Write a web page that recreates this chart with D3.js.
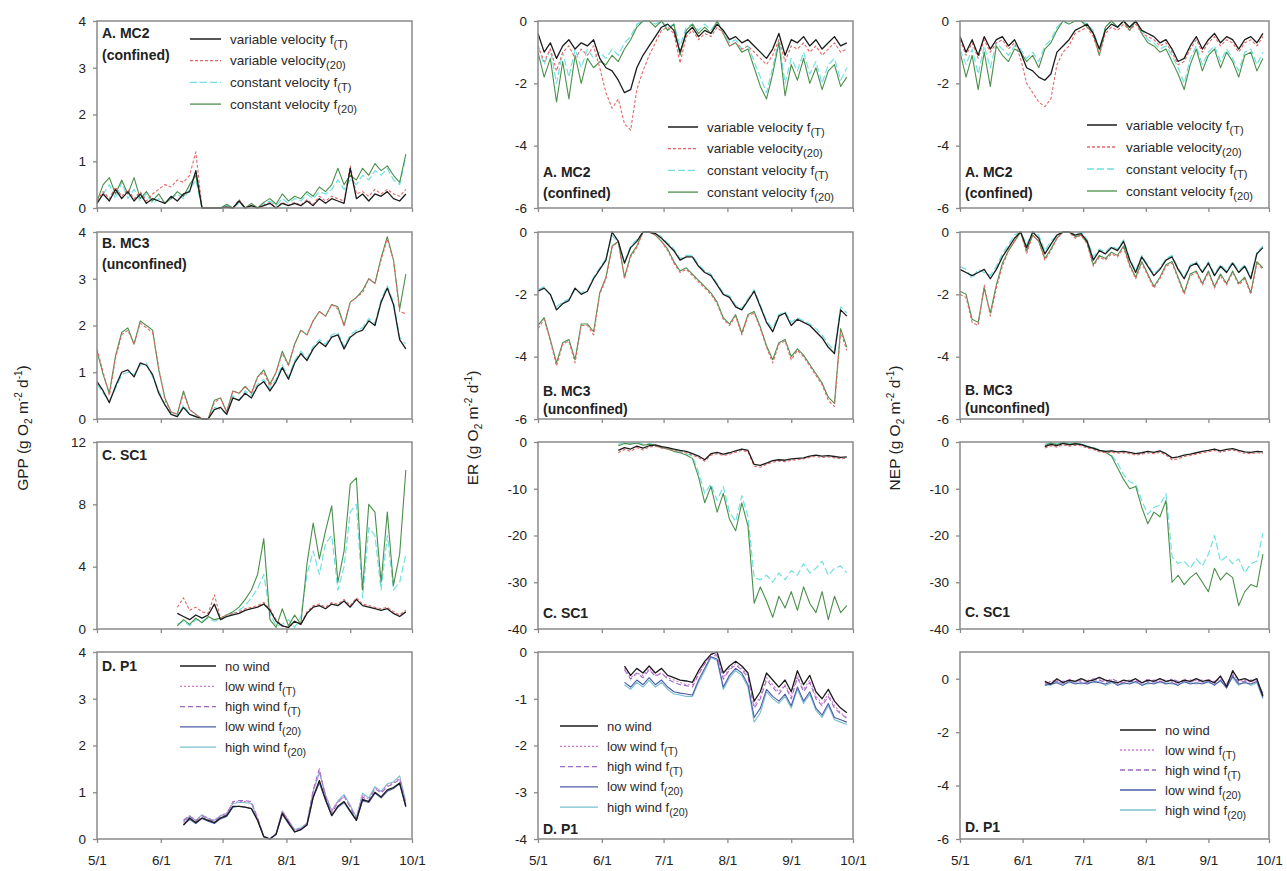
<!DOCTYPE html>
<html><head><meta charset="utf-8">
<script src="https://cdn.jsdelivr.net/npm/d3@7"></script>
<style>body{margin:0;background:#fff}svg{font-family:"Liberation Sans",Arial,sans-serif}</style>
</head><body><svg id="c" width="1287" height="871"></svg>
<script>
// ---------- dates ----------
const datesFull = ["5/1","5/4","5/7","5/10","5/13","5/16","5/19","5/22","5/25","5/28","5/31","6/3","6/6",
 "6/9","6/12","6/15","6/18","6/21","6/24","6/27","6/30","7/3","7/6","7/9","7/12","7/15","7/18","7/21","7/24","7/27","7/30",
 "8/2","8/5","8/8","8/11","8/14","8/17","8/20","8/23","8/26","8/29","9/1","9/4","9/7","9/10","9/13","9/16","9/19","9/22","9/25","9/28"];
const datesLate = ["6/9","6/12","6/15","6/18","6/21","6/24","6/27","6/30","7/3","7/6","7/9","7/12","7/15","7/18","7/21","7/24","7/27","7/30",
 "8/2","8/5","8/8","8/11","8/14","8/17","8/20","8/23","8/26","8/29","9/1","9/4","9/7","9/10","9/13","9/16","9/19","9/22","9/25","9/28"];
const xTickLabels = ["5/1","6/1","7/1","8/1","9/1","10/1"];

// ---------- GPP ----------
const gppA_varT = [0.1,0.3,0.15,0.4,0.2,0.35,0.15,0.3,0.1,0.2,0.15,0.1,0.25,0.15,0.3,0.35,0.8,0,0,0,0,0.02,0,0.15,0,0.05,0,0.05,0.1,0,0.1,0.05,0.1,0.05,0.15,0.05,0.2,0.1,0.2,0.15,0.1,0.85,0.2,0.3,0.15,0.3,0.25,0.35,0.2,0.15,0.3];
const gppA_var20 = [0.15,0.35,0.2,0.45,0.25,0.4,0.2,0.35,0.15,0.3,0.4,0.5,0.45,0.6,0.55,0.7,1.2,0,0,0,0,0.03,0,0.18,0,0.06,0,0.06,0.12,0,0.12,0.06,0.12,0.06,0.18,0.08,0.25,0.15,0.25,0.2,0.15,0.9,0.3,0.35,0.25,0.4,0.3,0.4,0.3,0.25,0.4];
const gppA_constT = [0.1,0.3,0.5,0.2,0.55,0.2,0.4,0.15,0.3,0.1,0.2,0.1,0.2,0.3,0.2,0.4,0.6,0,0,0,0,0.05,0,0.1,0,0.05,0,0.1,0.15,0.05,0.2,0.1,0.2,0.15,0.3,0.2,0.35,0.3,0.4,0.6,0.4,0.6,0.5,0.7,0.6,0.8,0.7,0.85,0.6,0.5,1.1];
const gppA_const20 = [0.15,0.5,0.65,0.3,0.6,0.3,0.65,0.2,0.35,0.15,0.3,0.1,0.2,0.35,0.25,0.5,0.7,0,0,0,0,0.08,0,0.15,0,0.1,0,0.12,0.2,0.08,0.3,0.15,0.25,0.2,0.35,0.25,0.45,0.35,0.5,0.85,0.5,0.7,0.6,0.85,0.7,0.95,0.8,0.9,0.7,0.55,1.15];

const gppB_varT = [0.8,0.6,0.35,0.7,1.0,1.05,0.9,1.2,1.15,0.95,0.55,0.3,0.1,0.05,0.25,0.1,0.05,0,0,0.2,0.25,0.1,0.45,0.4,0.55,0.45,0.7,0.8,0.6,0.8,1.1,0.85,1.2,1.4,1.25,1.5,1.65,1.55,1.75,1.8,1.5,1.75,1.85,1.9,2.1,2.0,2.5,2.8,2.45,1.7,1.5];
const gppB_var20 = [1.5,1.0,0.5,1.3,1.8,1.9,1.6,2.05,1.95,1.85,1.1,0.4,0.15,0.1,0.55,0.2,0.1,0,0,0.35,0.45,0.15,0.6,0.55,0.7,0.55,0.9,1.0,0.7,1.0,1.4,1.15,1.6,1.9,1.8,2.1,2.3,2.2,2.45,2.35,2.0,2.5,2.6,2.7,3.0,2.9,3.4,3.85,3.4,2.3,2.25];
const gppB_constT = [0.75,0.55,0.4,0.65,0.95,1.0,0.95,1.15,1.2,0.9,0.6,0.3,0.1,0.05,0.3,0.1,0.05,0,0,0.25,0.2,0.1,0.5,0.4,0.6,0.5,0.75,0.85,0.65,0.85,1.15,0.9,1.25,1.45,1.3,1.55,1.7,1.6,1.8,1.85,1.55,1.8,1.9,1.95,2.15,2.05,2.55,2.85,2.5,1.75,1.6];
const gppB_const20 = [1.45,0.95,0.55,1.35,1.85,1.95,1.6,2.1,2.0,1.9,1.05,0.45,0.15,0.1,0.6,0.2,0.1,0,0,0.4,0.45,0.15,0.6,0.55,0.7,0.55,0.9,1.05,0.75,1.0,1.45,1.15,1.6,1.9,1.8,2.1,2.3,2.2,2.45,2.4,2.0,2.5,2.6,2.75,3.0,2.9,3.45,3.9,3.4,2.35,3.1];

const gppC_varT = [1.0,0.8,0.6,0.9,0.7,0.9,1.6,0.6,0.8,0.9,1.0,1.2,1.3,1.4,1.6,1.2,0.5,0.2,0.1,0.5,0.3,1.0,1.4,1.5,1.3,1.6,1.5,1.8,1.4,1.9,1.5,1.4,1.3,1.2,1.3,1.0,0.8,1.1];
const gppC_var20 = [1.4,2.0,1.2,1.4,1.1,1.0,2.2,0.7,0.9,1.0,1.1,1.3,1.4,1.5,1.7,1.3,0.6,0.2,0.1,0.5,0.3,1.1,1.5,1.6,1.4,1.7,1.6,1.9,1.5,2.0,1.6,1.5,1.4,1.3,1.4,1.1,0.9,1.2];
const gppC_constT = [0.3,0.5,0.2,0.6,0.5,0.7,0.5,0.6,0.8,1.0,1.2,1.5,2.0,2.6,3.5,1.0,0.2,0.3,0.6,0.1,0.8,3.5,5.0,3.5,5.5,6.0,2.5,4.0,7.5,8.0,2.0,6.5,6.0,2.5,6.0,2.5,3.0,4.8];
const gppC_const20 = [0.2,0.6,0.3,0.7,0.4,0.8,0.6,0.7,0.9,1.1,1.4,1.9,2.5,3.5,5.8,0.6,0.1,1.3,0.2,0.9,0.3,4.2,6.8,4.5,6.3,7.9,3.0,5.0,9.3,9.7,2.5,8.0,7.5,3.0,7.5,2.8,4.8,10.2];

const gppD_noWind = [null,0.3,0.45,0.35,0.45,0.4,0.35,0.45,0.5,0.7,0.7,0.68,0.65,0.4,0.05,0,0.1,0.55,0.35,0.15,0.2,0.3,0.9,1.25,0.85,0.5,0.7,0.8,0.6,0.4,0.85,0.8,1.0,0.9,1.05,1.1,1.2,0.7];
const gppD_lowWindT = [null,0.35,0.5,0.4,0.5,0.45,0.4,0.5,0.55,0.78,0.8,0.8,0.78,0.45,0.05,0,0.12,0.6,0.4,0.18,0.22,0.32,1.0,1.45,0.95,0.6,0.8,0.9,0.7,0.45,0.95,0.85,1.1,1.0,1.15,1.2,1.3,0.75];
const gppD_highWindT = [null,0.4,0.5,0.38,0.5,0.42,0.38,0.48,0.52,0.8,0.82,0.82,0.8,0.45,0.06,0,0.12,0.58,0.38,0.18,0.22,0.33,1.05,1.5,0.9,0.55,0.78,0.92,0.68,0.42,0.9,0.82,1.08,0.98,1.12,1.18,1.28,0.72];
const gppD_lowWind20 = [null,0.3,0.42,0.33,0.44,0.38,0.33,0.43,0.48,0.68,0.7,0.68,0.65,0.4,0.05,0,0.1,0.53,0.33,0.15,0.2,0.3,0.88,1.2,0.82,0.5,0.68,0.78,0.58,0.4,0.82,0.78,0.98,0.88,1.02,1.08,1.18,0.68];
const gppD_highWind20 = [null,0.38,0.48,0.4,0.52,0.44,0.4,0.5,0.55,0.76,0.78,0.78,0.76,0.44,0.06,0,0.12,0.6,0.4,0.2,0.24,0.34,1.02,1.42,0.95,0.6,0.82,0.95,0.72,0.46,0.98,0.88,1.12,1.02,1.18,1.22,1.35,0.8];

// ---------- ER ----------
const erA_varT = [-0.4,-1.0,-0.7,-1.2,-0.8,-0.6,-0.9,-0.7,-0.8,-0.6,-1.2,-1.5,-1.6,-1.9,-2.3,-2.2,-1.5,-1.1,-0.8,-0.5,-0.2,-0.1,-0.3,-1.0,-0.4,-0.2,-0.5,-0.3,-0.4,-0.1,-0.3,-0.6,-0.5,-0.7,-0.6,-0.8,-1.0,-1.2,-0.9,-0.4,-1.1,-0.6,-0.7,-0.5,-0.8,-0.6,-0.9,-0.7,-0.5,-0.8,-0.7];
const erA_var20 = [-0.8,-1.3,-0.9,-1.6,-1.0,-0.8,-1.2,-0.9,-1.1,-0.8,-1.5,-2.3,-2.8,-2.5,-3.3,-3.5,-2.2,-1.6,-1.1,-0.7,-0.3,-0.2,-0.4,-1.35,-0.5,-0.3,-0.6,-0.4,-0.5,-0.2,-0.4,-0.8,-0.7,-0.9,-0.8,-1.0,-1.2,-1.4,-1.1,-0.6,-1.3,-0.8,-0.9,-0.7,-1.0,-0.8,-1.1,-0.9,-0.7,-1.0,-0.9];
const erA_constT = [-0.8,-1.4,-0.9,-2.0,-1.0,-1.8,-0.9,-1.5,-0.9,-1.2,-1.0,-1.2,-0.9,-1.1,-0.7,-0.5,-0.1,0,0,-0.1,0,-0.2,-0.1,-0.8,-0.2,-0.1,-0.3,-0.1,-0.3,0,-0.3,-0.7,-0.6,-0.9,-0.8,-1.3,-1.8,-2.3,-1.5,-0.6,-2.0,-1.2,-1.6,-1.0,-1.7,-1.3,-2.0,-1.4,-1.2,-1.9,-1.5];
const erA_const20 = [-1.0,-1.8,-1.2,-2.6,-1.3,-2.5,-1.1,-2.0,-1.2,-1.5,-1.3,-1.4,-1.1,-1.3,-0.9,-0.6,-0.2,0,0,-0.2,0,-0.3,-0.1,-1.1,-0.3,-0.1,-0.4,-0.2,-0.4,0,-0.4,-0.8,-0.7,-1.0,-0.9,-1.5,-2.1,-2.5,-1.7,-0.7,-2.4,-1.4,-1.9,-1.2,-2.0,-1.5,-2.2,-1.6,-1.4,-2.1,-1.8];

const erB_varT = [-1.9,-1.8,-2.0,-2.5,-2.3,-2.2,-1.8,-2.0,-1.9,-1.5,-1.2,-0.9,0,-0.3,-1.0,-0.5,-0.3,0,0,-0.05,-0.2,-0.4,-0.6,-0.9,-0.8,-0.8,-1.1,-1.3,-1.4,-1.7,-2.0,-2.1,-2.4,-2.5,-2.2,-1.9,-2.4,-2.9,-3.2,-2.7,-2.6,-3.0,-2.8,-2.9,-3.0,-3.2,-3.4,-3.7,-3.9,-2.5,-2.7];
const erB_var20 = [-3.1,-2.8,-3.5,-4.3,-3.6,-3.5,-4.2,-3.0,-3.0,-3.3,-2.0,-1.5,-0.5,-0.3,-1.5,-0.8,-0.5,0,0,-0.1,-0.3,-0.6,-1.0,-1.3,-1.2,-1.4,-1.6,-1.8,-2.0,-2.3,-2.8,-3.0,-2.7,-3.3,-2.7,-2.6,-3.1,-3.7,-4.2,-3.6,-3.5,-4.1,-3.8,-4.0,-4.3,-4.6,-4.9,-5.4,-5.6,-3.2,-3.8];
const erB_constT = [-1.85,-1.75,-2.05,-2.4,-2.25,-2.15,-1.85,-1.95,-1.85,-1.45,-1.15,-0.85,-0.1,-0.35,-0.95,-0.45,-0.25,0,0,-0.05,-0.15,-0.35,-0.55,-0.85,-0.75,-0.75,-1.05,-1.25,-1.35,-1.65,-1.95,-2.05,-2.35,-2.45,-2.15,-1.85,-2.35,-2.85,-3.1,-2.65,-2.55,-2.9,-2.75,-2.85,-2.95,-3.1,-3.3,-3.6,-3.8,-2.4,-2.6];
const erB_const20 = [-3.0,-2.75,-3.45,-4.2,-3.55,-3.45,-4.1,-2.95,-2.95,-3.2,-1.95,-1.45,-0.45,-0.3,-1.45,-0.75,-0.45,0,0,-0.1,-0.3,-0.55,-0.95,-1.25,-1.15,-1.35,-1.55,-1.75,-1.95,-2.25,-2.75,-2.95,-2.65,-3.25,-2.65,-2.55,-3.05,-3.65,-4.1,-3.55,-3.45,-4.0,-3.75,-3.95,-4.25,-4.55,-4.85,-5.3,-5.5,-3.1,-3.7];

const erC_varT = [-1.8,-1.2,-1.5,-0.9,-1.3,-0.8,-0.6,-1.0,-1.2,-1.5,-1.8,-2.0,-2.5,-3.0,-3.8,-2.5,-2.2,-2.6,-2.3,-1.9,-1.5,-1.8,-4.8,-5.0,-4.5,-4.0,-3.8,-3.9,-3.6,-3.5,-3.4,-3.0,-2.8,-3.0,-2.9,-3.1,-3.3,-3.2];
const erC_var20 = [-2.3,-1.6,-2.0,-1.2,-1.7,-1.1,-0.9,-1.3,-1.5,-1.8,-2.1,-2.3,-2.8,-3.3,-4.1,-2.8,-2.5,-2.9,-2.6,-2.2,-1.8,-2.1,-5.2,-5.4,-4.8,-4.3,-4.1,-4.2,-3.9,-3.8,-3.6,-3.3,-3.1,-3.3,-3.2,-3.4,-3.6,-3.5];
const erC_constT = [-0.5,0,-0.3,0,-0.5,-0.3,-0.6,-1.0,-1.3,-1.7,-2.0,-2.5,-3.0,-6.5,-11.0,-9.0,-12.5,-9.5,-15.0,-17.0,-11.5,-16.0,-29.0,-29.5,-28.5,-30.0,-28.0,-29.5,-27.5,-28.5,-26.0,-28.0,-27.0,-25.5,-28.5,-27.0,-26.5,-28.0];
const erC_const20 = [-0.8,-0.3,-0.5,-0.2,-0.7,-0.5,-0.8,-1.2,-1.5,-2.0,-2.3,-2.8,-3.5,-7.5,-13.0,-9.5,-15.0,-11.0,-16.5,-19.0,-13.0,-18.0,-34.5,-31.0,-34.0,-37.5,-33.0,-35.5,-32.0,-36.0,-31.0,-34.5,-36.5,-32.0,-38.0,-33.0,-36.5,-35.0];

const erD_noWind = [null,-0.3,-0.5,-0.35,-0.45,-0.3,-0.45,-0.35,-0.5,-0.55,-0.6,-0.62,-0.65,-0.4,-0.2,-0.05,0,-0.45,-0.3,-0.2,-0.3,-0.45,-1.05,-0.85,-0.45,-0.6,-0.75,-0.6,-0.85,-0.4,-0.7,-0.5,-0.85,-1.0,-0.8,-1.05,-1.2,-1.3];
const erD_lowWindT = [null,-0.35,-0.55,-0.45,-0.5,-0.35,-0.5,-0.45,-0.55,-0.6,-0.65,-0.7,-0.7,-0.45,-0.25,-0.05,-0.05,-0.55,-0.35,-0.25,-0.35,-0.5,-1.15,-0.95,-0.55,-0.7,-0.85,-0.7,-0.95,-0.5,-0.8,-0.6,-0.95,-1.1,-0.9,-1.15,-1.3,-1.4];
const erD_highWindT = [null,-0.38,-0.58,-0.45,-0.55,-0.38,-0.52,-0.45,-0.58,-0.65,-0.7,-0.72,-0.75,-0.48,-0.25,-0.08,-0.08,-0.58,-0.38,-0.28,-0.38,-0.55,-1.2,-1.0,-0.6,-0.75,-0.9,-0.72,-1.0,-0.55,-0.85,-0.65,-1.0,-1.15,-0.95,-1.2,-1.32,-1.42];
const erD_lowWind20 = [null,-0.65,-0.75,-0.6,-0.7,-0.55,-0.7,-0.6,-0.75,-0.85,-0.88,-0.9,-0.92,-0.6,-0.35,-0.1,-0.15,-0.75,-0.5,-0.35,-0.45,-0.7,-1.4,-1.2,-0.8,-0.95,-1.05,-0.9,-1.15,-0.75,-1.05,-0.85,-1.2,-1.35,-1.1,-1.4,-1.45,-1.5];
const erD_highWind20 = [null,-0.7,-0.8,-0.65,-0.75,-0.6,-0.75,-0.65,-0.8,-0.9,-0.92,-0.95,-0.95,-0.65,-0.4,-0.12,-0.18,-0.8,-0.55,-0.4,-0.5,-0.75,-1.5,-1.3,-0.85,-1.0,-1.1,-0.95,-1.2,-0.8,-1.1,-0.9,-1.25,-1.4,-1.15,-1.45,-1.5,-1.55];

// ---------- NEP ----------
const nepA_varT = [-0.5,-1.0,-0.6,-1.1,-0.5,-0.9,-0.6,-0.5,-0.8,-0.6,-1.0,-1.5,-1.6,-1.8,-1.9,-1.7,-1.0,-0.8,-0.6,-0.3,-0.2,-0.1,-0.4,-0.9,-0.3,-0.1,-0.2,0,-0.2,0,-0.3,-0.4,-0.5,-0.7,-0.6,-0.9,-1.3,-1.2,-0.8,-0.5,-0.9,-0.6,-0.4,-0.7,-0.5,-0.6,-0.9,-0.6,-0.5,-0.7,-0.4];
const nepA_var20 = [-0.6,-1.1,-0.7,-1.2,-0.6,-1.0,-0.7,-0.6,-0.9,-0.7,-1.2,-2.0,-2.3,-2.6,-2.75,-2.5,-1.4,-1.0,-0.8,-0.4,-0.3,-0.2,-0.5,-1.1,-0.4,-0.2,-0.3,-0.1,-0.3,-0.1,-0.4,-0.5,-0.6,-0.8,-0.7,-1.0,-1.4,-1.3,-0.9,-0.6,-1.0,-0.7,-0.5,-0.8,-0.6,-0.7,-1.0,-0.7,-0.6,-0.8,-0.5];
const nepA_constT = [-0.9,-1.4,-0.9,-1.7,-0.8,-1.5,-0.7,-0.9,-1.1,-0.8,-0.9,-1.2,-1.0,-1.3,-0.8,-0.6,-0.2,0,-0.1,0,0,-0.1,-0.3,-0.9,-0.2,0,-0.2,0,-0.2,0,-0.3,-0.6,-0.7,-0.9,-0.8,-1.1,-1.5,-2.0,-1.2,-0.8,-1.4,-1.0,-0.8,-1.3,-0.9,-1.2,-1.6,-1.0,-0.9,-1.4,-1.0];
const nepA_const20 = [-1.0,-1.8,-1.1,-2.2,-1.0,-2.1,-0.8,-1.1,-1.3,-0.9,-1.0,-1.3,-1.1,-1.5,-0.9,-0.7,-0.3,0,-0.1,0,0,-0.2,-0.4,-1.1,-0.2,0,-0.2,0,-0.3,0,-0.4,-0.7,-0.8,-1.0,-0.9,-1.3,-1.7,-2.2,-1.4,-0.9,-1.6,-1.1,-0.9,-1.5,-1.0,-1.3,-1.8,-1.1,-1.0,-1.6,-1.2];

const nepB_varT = [-1.2,-1.3,-1.4,-1.3,-1.2,-1.5,-1.2,-0.8,-0.5,-0.2,0,-0.5,0,-0.2,-0.7,-0.4,-0.1,0,0,-0.1,-0.05,-0.3,-0.9,-0.6,-0.7,-0.5,-0.6,-0.3,-0.9,-1.3,-0.8,-1.1,-1.4,-1.2,-0.9,-0.8,-1.2,-1.5,-1.1,-1.0,-1.3,-1.0,-1.4,-1.1,-1.3,-1.0,-1.3,-1.1,-1.5,-0.7,-0.5];
const nepB_var20 = [-2.0,-2.1,-2.9,-3.0,-1.7,-2.7,-1.8,-1.1,-0.6,-0.3,0,-0.7,-0.1,-0.3,-0.9,-0.6,-0.2,0,0,-0.2,-0.1,-0.4,-1.1,-0.8,-0.9,-0.7,-0.8,-0.5,-1.1,-1.5,-1.0,-1.4,-1.8,-1.5,-1.1,-1.0,-1.5,-2.0,-1.4,-1.3,-1.7,-1.3,-1.8,-1.4,-1.7,-1.3,-1.7,-1.5,-2.0,-1.0,-1.2];
const nepB_constT = [-1.1,-1.2,-1.5,-1.2,-1.3,-1.4,-1.1,-0.7,-0.4,-0.1,0,-0.4,0,-0.1,-0.6,-0.3,-0.1,0,0,-0.1,0,-0.25,-0.8,-0.55,-0.65,-0.45,-0.55,-0.25,-0.85,-1.25,-0.75,-1.05,-1.35,-1.15,-0.85,-0.75,-1.15,-1.45,-1.05,-0.95,-1.25,-0.95,-1.35,-1.05,-1.25,-0.95,-1.25,-1.05,-1.45,-0.65,-0.45];
const nepB_const20 = [-1.9,-2.0,-2.8,-2.9,-1.8,-2.6,-1.7,-1.0,-0.6,-0.3,0,-0.6,-0.1,-0.3,-0.85,-0.55,-0.2,0,0,-0.15,-0.1,-0.35,-1.05,-0.75,-0.85,-0.65,-0.75,-0.45,-1.05,-1.45,-0.95,-1.35,-1.75,-1.45,-1.05,-0.95,-1.45,-1.95,-1.35,-1.25,-1.65,-1.25,-1.75,-1.35,-1.65,-1.25,-1.65,-1.45,-1.95,-0.95,-1.15];

const nepC_varT = [null,-1.0,-0.5,-0.8,-0.3,-0.6,-0.4,-0.5,-1.0,-1.3,-1.8,-2.0,-1.9,-2.1,-2.0,-2.2,-2.5,-2.3,-2.0,-2.2,-1.9,-2.5,-3.4,-3.2,-2.8,-2.6,-2.3,-2.0,-1.8,-1.5,-1.9,-1.6,-1.4,-1.8,-2.1,-2.2,-2.0,-2.1];
const nepC_var20 = [null,-1.3,-0.8,-1.1,-0.6,-0.9,-0.7,-0.8,-1.3,-1.6,-2.1,-2.3,-2.2,-2.4,-2.3,-2.5,-2.8,-2.6,-2.3,-2.5,-2.2,-2.8,-3.8,-3.6,-3.1,-2.9,-2.6,-2.3,-2.1,-1.8,-2.2,-1.9,-1.7,-2.1,-2.4,-2.5,-2.3,-2.4];
const nepC_constT = [null,-0.5,0,-0.4,0,-0.3,-0.2,-0.4,-0.8,-1.2,-1.6,-2.0,-2.8,-4.5,-7.0,-8.5,-9.0,-12.5,-15.5,-14.0,-13.5,-11.0,-24.5,-26.0,-25.5,-27.0,-25.0,-26.5,-24.0,-20.0,-25.5,-24.5,-26.0,-25.0,-28.0,-26.0,-25.5,-19.5];
const nepC_const20 = [null,-0.8,-0.2,-0.6,-0.1,-0.5,-0.3,-0.6,-1.0,-1.4,-1.8,-2.2,-3.0,-5.5,-8.0,-10.0,-9.5,-14.0,-17.5,-15.0,-16.0,-12.5,-30.0,-28.5,-30.5,-29.0,-28.0,-30.0,-32.0,-27.0,-29.5,-28.0,-29.0,-35.0,-32.0,-30.5,-31.0,-24.0];

const nepD_noWind = [null,-0.1,-0.2,0,-0.15,-0.05,-0.1,0,-0.1,-0.05,0.05,-0.05,-0.1,-0.15,-0.05,-0.1,0,-0.15,-0.05,-0.1,0,-0.1,-0.05,-0.15,-0.05,-0.1,0,-0.1,-0.05,-0.15,0.1,-0.3,0.3,-0.05,0,-0.1,0,-0.65];
const nepD_lowWindT = [null,-0.15,-0.1,-0.05,-0.2,0,-0.15,-0.05,-0.05,-0.1,0,-0.1,-0.05,-0.2,-0.1,-0.05,-0.05,-0.2,0,-0.15,-0.05,-0.05,-0.1,-0.2,0,-0.15,-0.05,-0.15,0,-0.2,0.05,-0.25,0.2,-0.1,-0.05,-0.15,-0.05,-0.6];
const nepD_highWindT = [null,-0.2,-0.15,-0.1,-0.1,-0.1,-0.05,-0.1,-0.15,0,-0.05,-0.15,0,-0.1,-0.15,-0.1,-0.1,-0.1,-0.1,-0.05,-0.1,-0.15,0,-0.1,-0.1,-0.05,-0.1,-0.05,-0.1,-0.1,0,-0.2,0.15,-0.15,-0.1,-0.05,-0.1,-0.55];
const nepD_lowWind20 = [null,-0.25,-0.2,-0.15,-0.25,-0.1,-0.2,-0.15,-0.2,-0.1,-0.15,-0.2,-0.1,-0.25,-0.15,-0.2,-0.1,-0.25,-0.15,-0.2,-0.1,-0.2,-0.15,-0.25,-0.1,-0.2,-0.15,-0.2,-0.1,-0.25,-0.05,-0.35,0.1,-0.2,-0.15,-0.2,-0.1,-0.7];
const nepD_highWind20 = [null,-0.2,-0.25,-0.1,-0.2,-0.15,-0.15,-0.2,-0.15,-0.15,-0.1,-0.25,-0.15,-0.2,-0.2,-0.15,-0.15,-0.2,-0.2,-0.15,-0.15,-0.15,-0.2,-0.2,-0.15,-0.15,-0.2,-0.15,-0.15,-0.2,-0.1,-0.3,0.05,-0.25,-0.1,-0.25,-0.15,-0.75];

// ---------- labels ----------
const velocityLegend = [
  {style:"varT",   parts:[["variable velocity f",0],["(T)",1]]},
  {style:"var20",  parts:[["variable velocity",0],["(20)",1]]},
  {style:"constT", parts:[["constant velocity f",0],["(T)",1]]},
  {style:"const20",parts:[["constant velocity f",0],["(20)",1]]}
];
const windLegend = [
  {style:"noWind",     parts:[["no wind",0]]},
  {style:"lowWindT",   parts:[["low wind f",0],["(T)",1]]},
  {style:"highWindT",  parts:[["high wind f",0],["(T)",1]]},
  {style:"lowWind20",  parts:[["low wind f",0],["(20)",1]]},
  {style:"highWind20", parts:[["high wind f",0],["(20)",1]]}
];
const axisTitles = ["GPP", "ER", "NEP"];

// ---------- styles ----------
const styles = {
  varT:{stroke:"#1c1c1c",dash:null,w:1.3},
  var20:{stroke:"#e26868",dash:"3,2",w:1.1},
  constT:{stroke:"#72e0e0",dash:"7,3",w:1.2},
  const20:{stroke:"#4a8f4a",dash:null,w:1.1},
  noWind:{stroke:"#1c1c1c",dash:null,w:1.3},
  lowWindT:{stroke:"#d27ad2",dash:"2,2",w:1.1},
  highWindT:{stroke:"#9a68c4",dash:"5,3",w:1.1},
  lowWind20:{stroke:"#4c5ca8",dash:null,w:1.1},
  highWind20:{stroke:"#78c0d0",dash:null,w:1.1}
};
const velOrder = (a,b,c,d)=>[{style:"constT",v:c},{style:"const20",v:d},{style:"var20",v:b},{style:"varT",v:a}];
const windOrder = (n,lt,ht,l2,h2)=>[{style:"highWind20",v:h2},{style:"lowWind20",v:l2},{style:"highWindT",v:ht},{style:"lowWindT",v:lt},{style:"noWind",v:n}];

const panels = [
 {col:0,row:0,domain:[0,4],ticks:[0,1,2,3,4],dates:datesFull,series:velOrder(gppA_varT,gppA_var20,gppA_constT,gppA_const20),label:["A. MC2","(confined)"],labelDy:[17,39],legend:velocityLegend,leg:{sx:93,tx:133,dy:18,step:21.7,fs:13.5}},
 {col:0,row:1,domain:[0,4],ticks:[0,1,2,3,4],dates:datesFull,series:velOrder(gppB_varT,gppB_var20,gppB_constT,gppB_const20),label:["B. MC3","(unconfined)"],labelDy:[16,37]},
 {col:0,row:2,domain:[0,12],ticks:[0,4,8,12],dates:datesLate,series:velOrder(gppC_varT,gppC_var20,gppC_constT,gppC_const20),label:["C. SC1"],labelDy:[18]},
 {col:0,row:3,domain:[0,4],ticks:[0,1,2,3,4],dates:datesLate,series:windOrder(gppD_noWind,gppD_lowWindT,gppD_highWindT,gppD_lowWind20,gppD_highWind20),label:["D. P1"],labelDy:[19],legend:windLegend,leg:{sx:83,tx:128,dy:14,step:20.3,fs:13}},
 {col:1,row:0,domain:[-6,0],ticks:[-6,-4,-2,0],dates:datesFull,series:velOrder(erA_varT,erA_var20,erA_constT,erA_const20),label:["A. MC2","(confined)"],labelDy:[156,177],legend:velocityLegend,leg:{sx:130,tx:169,dy:106,step:21.7,fs:13.5}},
 {col:1,row:1,domain:[-6,0],ticks:[-6,-4,-2,0],dates:datesFull,series:velOrder(erB_varT,erB_var20,erB_constT,erB_const20),label:["B. MC3","(unconfined)"],labelDy:[164,182]},
 {col:1,row:2,domain:[-40,0],ticks:[-40,-30,-20,-10,0],dates:datesLate,series:velOrder(erC_varT,erC_var20,erC_constT,erC_const20),label:["C. SC1"],labelDy:[176]},
 {col:1,row:3,domain:[-4,0],ticks:[-4,-3,-2,-1,0],dates:datesLate,series:windOrder(erD_noWind,erD_lowWindT,erD_highWindT,erD_lowWind20,erD_highWind20),label:["D. P1"],labelDy:[182],legend:windLegend,leg:{sx:22,tx:69,dy:74,step:20.3,fs:13}},
 {col:2,row:0,domain:[-6,0],ticks:[-6,-4,-2,0],dates:datesFull,series:velOrder(nepA_varT,nepA_var20,nepA_constT,nepA_const20),label:["A. MC2","(confined)"],labelDy:[156,177],legend:velocityLegend,leg:{sx:127,tx:166,dy:104,step:22,fs:13.5}},
 {col:2,row:1,domain:[-6,0],ticks:[-6,-4,-2,0],dates:datesFull,series:velOrder(nepB_varT,nepB_var20,nepB_constT,nepB_const20),label:["B. MC3","(unconfined)"],labelDy:[163,181]},
 {col:2,row:2,domain:[-40,0],ticks:[-40,-30,-20,-10,0],dates:datesLate,series:velOrder(nepC_varT,nepC_var20,nepC_constT,nepC_const20),label:["C. SC1"],labelDy:[175]},
 {col:2,row:3,domain:[-6,1],ticks:[-6,-4,-2,0],dates:datesLate,series:windOrder(nepD_noWind,nepD_lowWindT,nepD_highWindT,nepD_lowWind20,nepD_highWind20),label:["D. P1"],labelDy:[180],legend:windLegend,leg:{sx:160,tx:205,dy:78,step:20,fs:13}}
];

// ---------- layout ----------
const colX = [97, 538, 960], colW = [315, 315, 309];
const rowY = [21, 232, 442, 652], H = 187;
const titleX = [28, 478, 900], titleY = 428;

const parse = d3.timeParse("%m/%d");
const xDomain = [parse("5/1"), parse("10/1")];
const monthTicks = xTickLabels.map(parse);
const svg = d3.select("#c");
const frameColor = "#8a8a8a", textColor = "#222";

panels.forEach((p, i) => {
  const x0 = colX[p.col], y0 = rowY[p.row], W = colW[p.col];
  const x = d3.scaleTime().domain(xDomain).range([x0, x0 + W]);
  const y = d3.scaleLinear().domain(p.domain).range([y0 + H, y0]);
  const g = svg.append("g");
  const cid = "clip" + i;
  svg.append("clipPath").attr("id", cid).append("rect")
    .attr("x", x0).attr("y", y0 - 1).attr("width", W).attr("height", H + 2);
  const lg = g.append("g").attr("clip-path", `url(#${cid})`);
  const line = d3.line().defined(q => q.v != null).x(q => x(q.d)).y(q => y(q.v));
  p.series.forEach(s => {
    const st = styles[s.style];
    const pts = p.dates.map((d, j) => ({d: parse(d), v: s.v[j]}));
    lg.append("path").attr("d", line(pts)).attr("fill", "none")
      .attr("stroke", st.stroke).attr("stroke-width", st.w)
      .attr("stroke-dasharray", st.dash).attr("stroke-linejoin", "round");
  });
  // frame
  g.append("rect").attr("x", x0).attr("y", y0).attr("width", W).attr("height", H)
    .attr("fill", "none").attr("stroke", frameColor).attr("stroke-width", 1.5);
  // axes
  const ya = g.append("g").attr("transform", `translate(${x0},0)`)
    .call(d3.axisLeft(y).tickValues(p.ticks).tickSize(4).tickPadding(7).tickFormat(d => String(d)));
  const xa = g.append("g").attr("transform", `translate(0,${y0 + H})`)
    .call(d3.axisBottom(x).tickValues(monthTicks).tickSize(4).tickPadding(12)
      .tickFormat(p.row === 3 ? d3.timeFormat("%-m/%-d") : () => ""));
  [ya, xa].forEach(a => {
    a.select(".domain").remove();
    a.selectAll("line").attr("stroke", frameColor).attr("stroke-width", 1.3);
    a.selectAll("text").attr("fill", textColor).style("font-size", "13.5px")
      .style("font-family", '"Liberation Sans", Arial, sans-serif');
  });
  // panel label
  p.label.forEach((t, k) => {
    g.append("text").attr("x", x0 + 5).attr("y", y0 + p.labelDy[k]).text(t)
      .attr("fill", textColor).style("font-size", "14px").style("font-weight", "bold");
  });
  // legend
  if (p.legend) {
    const L = p.leg;
    p.legend.forEach((e, k) => {
      const cy = y0 + L.dy + k * L.step;
      const st = styles[e.style];
      g.append("line").attr("x1", x0 + L.sx).attr("x2", x0 + L.tx - 9).attr("y1", cy).attr("y2", cy)
        .attr("stroke", st.stroke).attr("stroke-width", st.w + 0.2).attr("stroke-dasharray", st.dash);
      const t = g.append("text").attr("x", x0 + L.tx).attr("y", cy + 4.5)
        .attr("fill", "#2a2a2a").style("font-size", L.fs + "px");
      e.parts.forEach(([s, sub]) => {
        const ts = t.append("tspan").text(s);
        if (sub) ts.attr("dy", 4).style("font-size", (L.fs * 0.82) + "px");
      });
    });
  }
});

// axis titles
axisTitles.forEach((name, c) => {
  const t = svg.append("text")
    .attr("transform", `translate(${titleX[c]},${titleY}) rotate(-90)`)
    .attr("text-anchor", "middle").attr("fill", textColor).style("font-size", "15.5px");
  t.append("tspan").text(name + " (g O");
  t.append("tspan").text("2").attr("dy", 4).style("font-size", "10px");
  t.append("tspan").text(" m").attr("dy", -4);
  t.append("tspan").text("-2").attr("dy", -6).style("font-size", "10px");
  t.append("tspan").text(" d").attr("dy", 6);
  t.append("tspan").text("-1").attr("dy", -6).style("font-size", "10px");
  t.append("tspan").text(")").attr("dy", 6);
});
</script>
</body></html>
